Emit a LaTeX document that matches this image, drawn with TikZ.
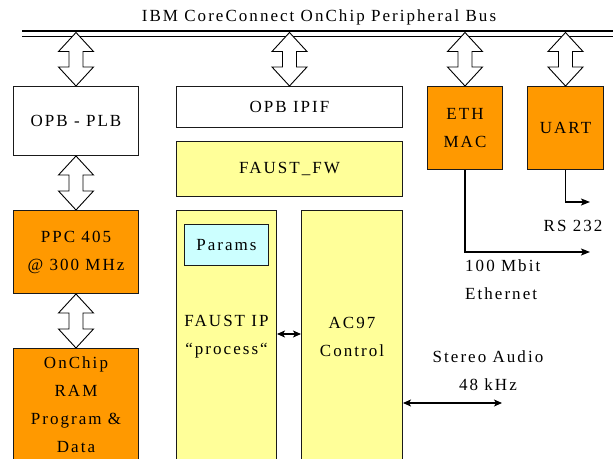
\documentclass[tikz,border=0pt]{standalone}
\usepackage{fontspec}
\setmainfont{Liberation Serif}[LetterSpace=12]
\usetikzlibrary{arrows.meta,calc}
\definecolor{boxorange}{HTML}{FF9900}
\definecolor{boxyellow}{HTML}{FFFF99}
\definecolor{boxcyan}{HTML}{CCFFFF}
\definecolor{edgegray}{HTML}{1A1A1A}

% hollow double-headed block arrow from point #1 (top) to point #2 (bottom)
\newcommand\hollowarrow[2]{%
  \draw[hollow] let \p1=(#1), \p2=(#2) in
    (\x1,\y1) -- (\x1+17.5pt,\y1-19pt) -- (\x1+7pt,\y1-19pt)
    -- (\x1+7pt,\y2+19pt) -- (\x1+17.5pt,\y2+19pt) -- (\x2,\y2)
    -- (\x1-17.5pt,\y2+19pt) -- (\x1-7pt,\y2+19pt)
    -- (\x1-7pt,\y1-19pt) -- (\x1-17.5pt,\y1-19pt) -- cycle;}

\begin{document}
\begin{tikzpicture}[x=1pt,y=-1pt,
  font=\fontsize{17}{28}\selectfont,
  blk/.style={draw=edgegray, line width=1pt, anchor=north west,
              inner sep=0pt, align=center},
  whitebox/.style={blk, fill=white},
  orangebox/.style={blk, fill=boxorange},
  yellowbox/.style={blk, fill=boxyellow},
  cyanbox/.style={blk, fill=boxcyan},
  hollow/.style={draw=black, fill=white, line width=0.9pt, line join=miter},
  wire/.style={draw=black, line width=1.1pt},
  tipped/.style={wire, -{Stealth[length=9pt,width=7pt,inset=2pt]}},
  bothtips/.style={wire, {Stealth[length=8pt,width=7pt,inset=2pt]}-{Stealth[length=8pt,width=7pt,inset=2pt]}},
  lbl/.style={inner sep=0pt, align=center}]

\useasboundingbox (0,0) rectangle (613,458);

% peripheral bus
\node[lbl] (title) at (319,17) {IBM CoreConnect OnChip Peripheral Bus};
\coordinate (busL) at (22,31);
\coordinate (busR) at (613,31);
\coordinate (busLb) at (22,36);
\coordinate (busRb) at (613,36);
\coordinate (bustap) at (0,32.5);
\draw[line width=2pt] (busL) -- (busR);
\draw[line width=1pt] (busLb) -- (busRb);

% left column
\node[whitebox, minimum width=125pt, minimum height=69pt] (opbplb) at (13,86) {OPB - PLB};
\node[orangebox, minimum width=125pt, minimum height=83pt] (ppc) at (13,210) {PPC 405\\@ 300 MHz};
\node[orangebox, minimum width=125pt, minimum height=113pt] (ram) at (13,348) {OnChip\\RAM\\Program \&\\Data};

% FAUST peripheral
\node[whitebox, minimum width=226pt, minimum height=41pt] (ipif) at (176,86) {OPB IPIF};
\node[yellowbox, minimum width=226pt, minimum height=55pt] (faustfw) at (176,141) {FAUST\_FW};
\node[yellowbox, minimum width=100pt, minimum height=252pt] (faustip) at (176,210) {FAUST IP\\“process“};
\node[yellowbox, minimum width=101pt, minimum height=252pt] (ac97) at (301,210) {AC97\\Control};
\node[cyanbox, minimum width=84pt, minimum height=41pt] (params) at (184,224) {Params};

% other peripherals
\node[orangebox, minimum width=75pt, minimum height=83pt] (ethmac) at (427,86) {ETH\\MAC};
\node[orangebox, minimum width=76pt, minimum height=83pt] (uart) at (527,86) {UART};

% bus connections
\hollowarrow{opbplb.north |- bustap}{opbplb.north}
\hollowarrow{ipif.north |- bustap}{ipif.north}
\hollowarrow{ethmac.north |- bustap}{ethmac.north}
\hollowarrow{uart.north |- bustap}{uart.north}
\hollowarrow{opbplb.south}{ppc.north}
\hollowarrow{ppc.south}{ram.north}

% signal connections
\coordinate (iplevel) at (0,334);
\draw[bothtips] (faustip.east |- iplevel) -- (ac97.west |- iplevel);
\coordinate (audioEnd) at (502,403);
\draw[bothtips] (ac97.east |- audioEnd) -- (audioEnd);
\coordinate (ethEnd) at (590,252);
\draw[tipped] (ethmac.south) |- (ethEnd);
\coordinate (rsEnd) at (590,202);
\draw[tipped] (uart.south) |- (rsEnd);

% connection labels
\node[lbl] (rs) at (573,226) {RS 232};
\node[lbl, align=left, anchor=west] (eth) at (465,279.5) {100 Mbit\\Ethernet};
\node[lbl] (audio) at (488,371) {Stereo Audio\\48 kHz};
\end{tikzpicture}
\end{document}
